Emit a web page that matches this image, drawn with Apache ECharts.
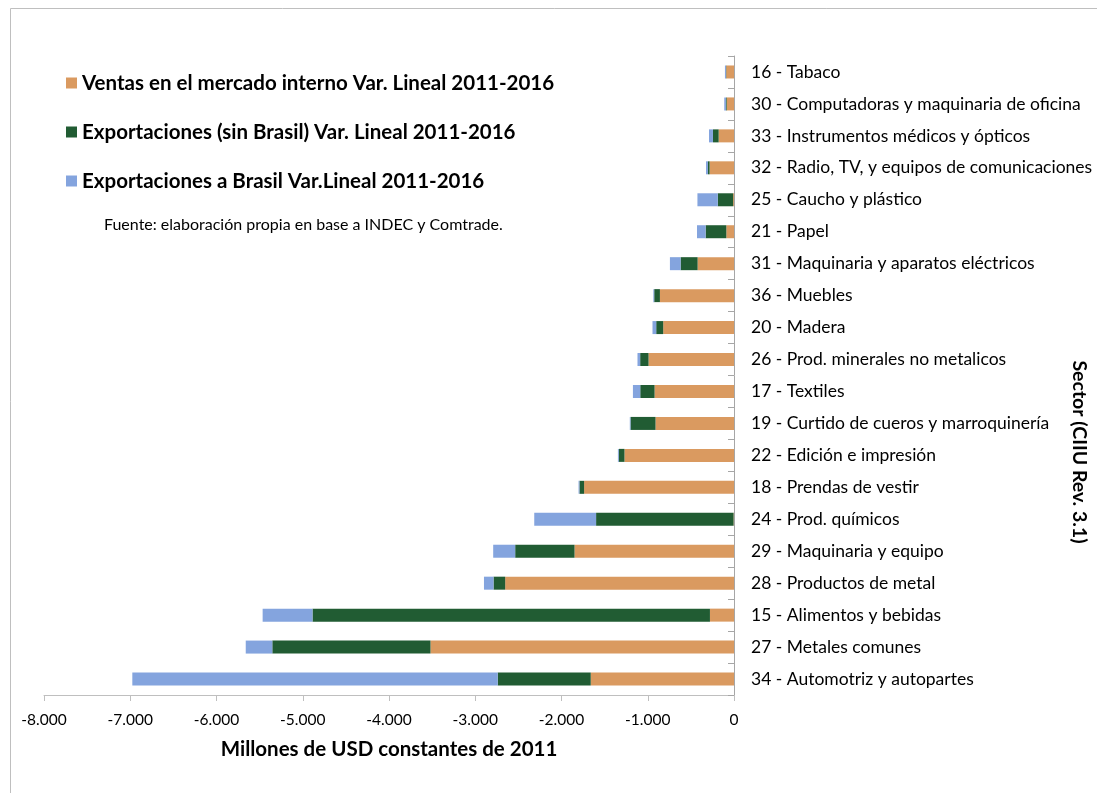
<!DOCTYPE html>
<html>
<head>
<meta charset="utf-8">
<script src="https://cdn.jsdelivr.net/npm/echarts@6/dist/echarts.min.js"></script>
<style>
html,body{margin:0;padding:0;background:#fff;}
#chart{width:1097px;height:793px;}
</style>
</head>
<body>
<div id="chart"></div>
<script>
const categories = [
  "16 - Tabaco",
  "30 - Computadoras y maquinaria de oficina",
  "33 - Instrumentos médicos y ópticos",
  "32 - Radio, TV, y equipos de comunicaciones",
  "25 - Caucho y plástico",
  "21 - Papel",
  "31 - Maquinaria y aparatos eléctricos",
  "36 - Muebles",
  "20 - Madera",
  "26 - Prod. minerales no metalicos",
  "17 - Textiles",
  "19 - Curtido de cueros y marroquinería",
  "22 - Edición e impresión",
  "18 - Prendas de vestir",
  "24 - Prod. químicos",
  "29 - Maquinaria y equipo",
  "28 - Productos de metal",
  "15 - Alimentos y bebidas",
  "27 - Metales comunes",
  "34 - Automotriz y autopartes"
];
const ventasInterno = [-90, -85, -178, -283, -10, -89, -422, -859, -821, -991, -921, -910, -1270, -1738, -5, -1849, -2653, -279, -3519, -1661];
const exportSinBrasil = [-3, -8, -66, -19, -178, -240, -197, -66, -81, -97, -166, -290, -66, -54, -1594, -688, -135, -4608, -1834, -1078];
const exportBrasil = [-12, -20, -46, -23, -236, -100, -124, -10, -43, -31, -85, -8, -10, -10, -717, -255, -111, -578, -308, -4237];
const seriesNames = [
  "Ventas en el mercado interno Var. Lineal 2011-2016",
  "Exportaciones (sin Brasil) Var. Lineal 2011-2016",
  "Exportaciones a Brasil Var.Lineal 2011-2016"
];
const xTicks = { min: -8000, max: 0, interval: 1000 };

const FONT = "Lato";
const colors = ["#DA9A60", "#215C33", "#84A4DE"];

const chart = echarts.init(document.getElementById('chart'), null, {renderer: 'canvas'});
const fmt = v => {
  const s = Math.abs(v).toString().replace(/\B(?=(\d{3})+(?!\d))/g, '.');
  return (v < 0 ? '-' : '') + s;
};
const mk = (name, data, i) => ({
  name: name, type: 'bar', stack: 'total', data: data,
  barWidth: 13,
  itemStyle: { color: colors[i] },
  emphasis: { disabled: true }
});
chart.setOption({
  animation: false,
  textStyle: { fontFamily: FONT },
  grid: { left: 44, right: 363, top: 56, bottom: 98, containLabel: false },
  legend: {
    orient: 'vertical', left: 61, top: 67, itemGap: 27,
    icon: 'rect', itemWidth: 11, itemHeight: 11,
    textStyle: { fontFamily: FONT, fontWeight: 'bold', fontSize: 20.5, color: '#000', lineHeight: 22 },
    data: seriesNames
  },
  xAxis: {
    type: 'value', min: xTicks.min, max: xTicks.max, interval: xTicks.interval,
    position: 'bottom',
    axisLine: { show: true, onZero: false, lineStyle: { color: '#BFBFBF' } },
    axisTick: { show: true, length: 6, lineStyle: { color: '#BFBFBF' } },
    splitLine: { show: false },
    axisLabel: { formatter: fmt, fontSize: 15.5, color: '#000', fontFamily: FONT, margin: 17 },
    name: 'Millones de USD constantes de 2011',
    nameLocation: 'middle', nameGap: 44,
    nameTextStyle: { fontFamily: FONT, fontWeight: 'bold', fontSize: 20.5, color: '#000' }
  },
  yAxis: {
    type: 'category', data: categories, inverse: true, position: 'right',
    axisLine: { show: true, lineStyle: { color: '#A6A6A6' } },
    axisTick: { show: true, inside: true, length: 6, lineStyle: { color: '#A6A6A6' } },
    axisLabel: { fontSize: 17.5, color: '#000', fontFamily: FONT, margin: 17 },
    splitLine: { show: false }
  },
  graphic: [
    { type: 'rect', shape: { x: 10.5, y: 8.5, width: 1100, height: 800 },
      style: { fill: 'none', stroke: '#BFBFBF', lineWidth: 1 }, silent: true },
    { type: 'text', left: 104, top: 217,
      style: { text: 'Fuente: elaboración propia en base a INDEC y Comtrade.', font: '16px ' + FONT, fill: '#000' } },
    { type: 'text', x: 1079, y: 452, rotation: -Math.PI / 2,
      style: { text: 'Sector (CIIU Rev. 3.1)', font: 'bold 19.5px ' + FONT, fill: '#000',
               textAlign: 'center', textVerticalAlign: 'middle' } }
  ],
  series: [
    mk(seriesNames[0], ventasInterno, 0),
    mk(seriesNames[1], exportSinBrasil, 1),
    mk(seriesNames[2], exportBrasil, 2)
  ]
});
</script>
</body>
</html>
